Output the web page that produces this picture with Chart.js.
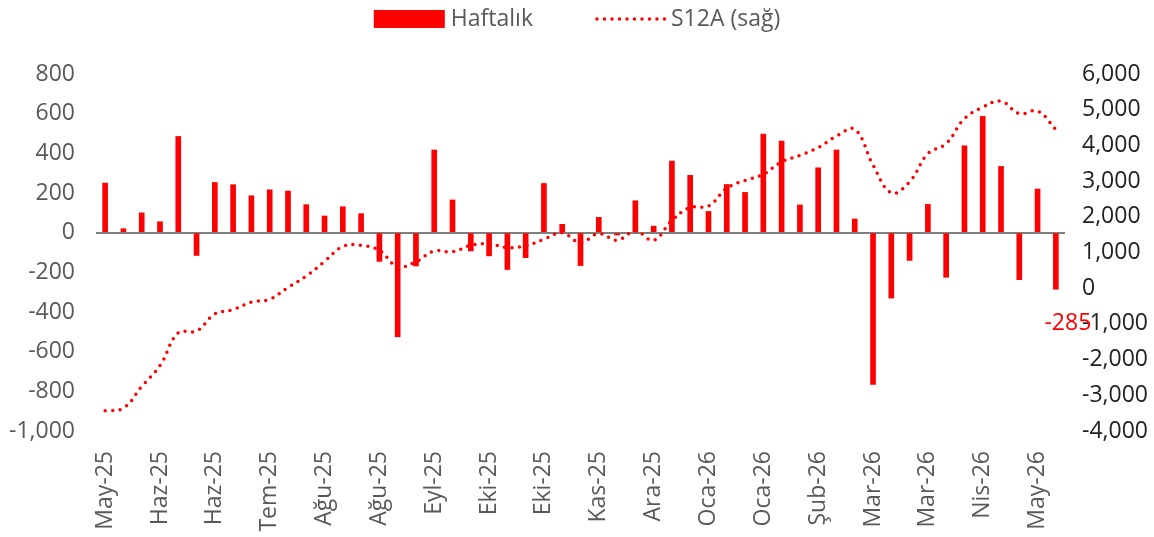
<!DOCTYPE html>
<html>
<head>
<meta charset="utf-8">
<script src="https://cdn.jsdelivr.net/npm/chart.js@4.4.1/dist/chart.umd.min.js"></script>
<style>
  html, body { margin: 0; padding: 0; background: #fff; }
  #wrap { width: 1154px; height: 537px; }
</style>
</head>
<body>
<div id="wrap"><canvas id="chart" width="1154" height="537"></canvas></div>
<script>
// weekly flows (left axis) and 12-week sum (right axis)
const weeklyFlows = [250, 20, 100, 55, 485, -115, 253, 242, 186, 216, 210, 141, 84, 131, 96,
    -145, -525, -168, 417, 165, -92, -117, -186, -126, 248, 42, -166, 77, -12, 161, 33,
    361, 289, 107, 243, 203, 497, 462, 140, 327, 417, 69, -765, -330, -140, 143, -225,
    438, 586, 334, -237, 220, -285];
const rolling12 = [-3430, -3360, -2750, -2170, -1250, -1200, -720, -600, -390, -310, 20,
    340, 750, 1170, 1200, 1060, 600, 740, 1045, 1020, 1200, 1240, 1140, 1185, 1370, 1550,
    1280, 1530, 1345, 1600, 1345, 1900, 2260, 2300, 2800, 3020, 3190, 3540, 3720, 3940,
    4260, 4450, 3450, 2670, 2980, 3770, 4050, 4750, 5070, 5240, 4890, 4960, 4450];
const tickLabels = ['May-25', 'Haz-25', 'Haz-25', 'Tem-25', 'Ağu-25', 'Ağu-25', 'Eyl-25',
    'Eki-25', 'Eki-25', 'Kas-25', 'Ara-25', 'Oca-26', 'Oca-26', 'Şub-26', 'Mar-26',
    'Mar-26', 'Nis-26', 'May-26'];
const seriesNames = ['Haftalık', 'S12A (sağ)'];

const FONT = "'Open Sans', sans-serif";
const FS = 23;
const RED = '#ff0000';
const GREY = '#595959';

// one category per week, label shown every third week
const weeks = weeklyFlows.map((_, i) => (i % 3 === 0 ? tickLabels[i / 3] : ''));

const fmt = v => Number(v).toLocaleString('en-US');

// legend drawn on top of the canvas, centered
const legendPlugin = {
    id: 'topLegend',
    afterDraw(chart) {
        const ctx = chart.ctx;
        ctx.save();
        ctx.font = FS + 'px ' + FONT;
        ctx.textBaseline = 'middle';
        const y = 19;
        const boxW = 71, gapText = 6, gapItems = 62, lineW = 70;
        const w1 = ctx.measureText(seriesNames[0]).width;
        const w2 = ctx.measureText(seriesNames[1]).width;
        const total = boxW + gapText + w1 + gapItems + lineW + gapText + w2;
        let x = (chart.width - total) / 2;
        ctx.fillStyle = RED;
        ctx.fillRect(x, y - 9, boxW, 18);
        x += boxW + gapText;
        ctx.fillStyle = GREY;
        ctx.fillText(seriesNames[0], x, y);
        x += w1 + gapItems;
        ctx.strokeStyle = RED;
        ctx.lineWidth = 3.5;
        ctx.lineCap = 'round';
        ctx.setLineDash([0, 7.5]);
        ctx.beginPath();
        ctx.moveTo(x + 2, y);
        ctx.lineTo(x + lineW, y);
        ctx.stroke();
        ctx.setLineDash([]);
        x += lineW + gapText;
        ctx.fillStyle = GREY;
        ctx.fillText(seriesNames[1], x, y);
        ctx.restore();
    }
};

// value label under the last bar
const lastLabelPlugin = {
    id: 'lastLabel',
    afterDatasetsDraw(chart) {
        const meta = chart.getDatasetMeta(0);
        const last = meta.data[meta.data.length - 1];
        const val = weeklyFlows[weeklyFlows.length - 1];
        const ctx = chart.ctx;
        ctx.save();
        ctx.font = FS + 'px ' + FONT;
        ctx.fillStyle = RED;
        ctx.textAlign = 'center';
        ctx.textBaseline = 'middle';
        ctx.fillText(String(val), last.x + 12, last.y + 34);
        ctx.restore();
    }
};

new Chart(document.getElementById('chart'), {
    type: 'bar',
    data: {
        labels: weeks,
        datasets: [
            {
                label: seriesNames[0],
                data: weeklyFlows,
                backgroundColor: RED,
                barThickness: 5,
                yAxisID: 'y',
                order: 2
            },
            {
                type: 'line',
                label: seriesNames[1],
                data: rolling12,
                borderColor: RED,
                borderWidth: 3.5,
                borderDash: [0, 7.5],
                borderCapStyle: 'round',
                pointRadius: 0,
                tension: 0.4,
                fill: false,
                yAxisID: 'y1',
                order: 1
            }
        ]
    },
    options: {
        responsive: false,
        animation: false,
        layout: { padding: { top: 74, left: 0, right: 0, bottom: 0 } },
        plugins: {
            legend: { display: false },
            tooltip: { enabled: false }
        },
        scales: {
            x: {
                grid: { display: false, drawTicks: false },
                border: { display: false },
                afterFit: s => { s.height = 106; },
                ticks: {
                    autoSkip: false,
                    maxRotation: 90,
                    minRotation: 90,
                    padding: 20,
                    color: GREY,
                    font: { family: FONT, size: FS }
                }
            },
            y: {
                position: 'left',
                min: -1000,
                max: 800,
                z: 1,
                border: { display: false },
                afterFit: s => { s.width = 96; },
                grid: {
                    drawTicks: false,
                    color: ctx => (ctx.tick && ctx.tick.value === 0 ? '#7f7f7f' : 'rgba(0,0,0,0)'),
                    lineWidth: 2
                },
                ticks: {
                    stepSize: 200,
                    padding: 21,
                    color: GREY,
                    font: { family: FONT, size: FS },
                    callback: v => fmt(v)
                }
            },
            y1: {
                position: 'right',
                min: -4000,
                max: 6000,
                border: { display: false },
                afterFit: s => { s.width = 89; },
                grid: { display: false, drawTicks: false },
                ticks: {
                    stepSize: 1000,
                    padding: 17,
                    color: '#222222',
                    font: { family: FONT, size: FS },
                    callback: v => fmt(v)
                }
            }
        }
    },
    plugins: [legendPlugin, lastLabelPlugin]
});
</script>
</body>
</html>
